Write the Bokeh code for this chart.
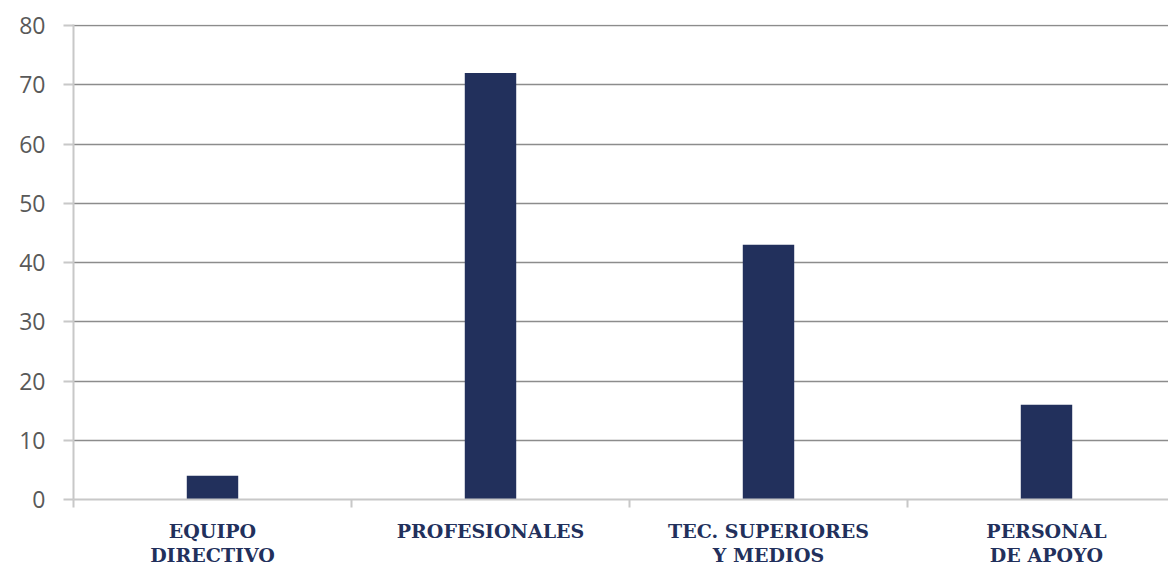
import numpy as np
from bokeh.plotting import figure
from bokeh.models import Range1d, FixedTicker, ColumnDataSource
from bokeh.embed import file_html
from bokeh.resources import INLINE

categories = ["EQUIPO\nDIRECTIVO", "PROFESIONALES", "TEC. SUPERIORES\nY MEDIOS", "PERSONAL\nDE APOYO"]
values = [4, 72, 43, 16]
y_ticks = [0, 10, 20, 30, 40, 50, 60, 70, 80]

BAR = "#22305C"
xs = np.arange(len(categories)) + 0.5
src = ColumnDataSource(dict(x=xs, top=values))

p = figure(width=1168, height=568, output_backend="svg", toolbar_location=None,
           x_range=Range1d(0, 1095 / 278), y_range=Range1d(0, 80.2),
           min_border_left=73, min_border_right=0, min_border_top=24, min_border_bottom=68)
p.outline_line_color = None
p.background_fill_color = "white"
p.border_fill_color = "white"

p.vbar(x="x", top="top", width=0.185, source=src, color=BAR, line_color=None)

# x axis
xa = p.xaxis[0]
xa.ticker = FixedTicker(ticks=list(xs), minor_ticks=list(range(len(categories) + 1)))
xa.major_label_overrides = {float(x): c for x, c in zip(xs, categories)}
xa.major_tick_out = 0
xa.major_tick_in = 0
xa.minor_tick_out = 8
xa.minor_tick_in = 0
xa.minor_tick_line_color = "#c8c8c8"
xa.minor_tick_line_width = 2
xa.axis_line_color = "#c8c8c8"
xa.axis_line_width = 2
xa.major_label_text_font = "DejaVu Serif"
xa.major_label_text_font_style = "bold"
xa.major_label_text_font_size = "19px"
xa.major_label_text_color = BAR
xa.major_label_text_line_height = 1.1
xa.major_label_standoff = 12

# y axis
ya = p.yaxis[0]
ya.ticker = FixedTicker(ticks=y_ticks)
ya.major_tick_out = 10
ya.major_tick_in = 0
ya.minor_tick_out = 0
ya.minor_tick_in = 0
ya.major_tick_line_color = "#c8c8c8"
ya.major_tick_line_width = 2
ya.axis_line_color = "#c8c8c8"
ya.axis_line_width = 2
ya.major_label_text_font = "Open Sans"
ya.major_label_text_font_size = "23px"
ya.major_label_text_color = "#595959"
ya.major_label_standoff = 18

p.xgrid.grid_line_color = None
p.ygrid.ticker = FixedTicker(ticks=y_ticks[1:])
p.ygrid.grid_line_color = "#8c8c8c"
p.ygrid.grid_line_width = 1.5

open("out.html", "w").write(file_html(p, INLINE))
